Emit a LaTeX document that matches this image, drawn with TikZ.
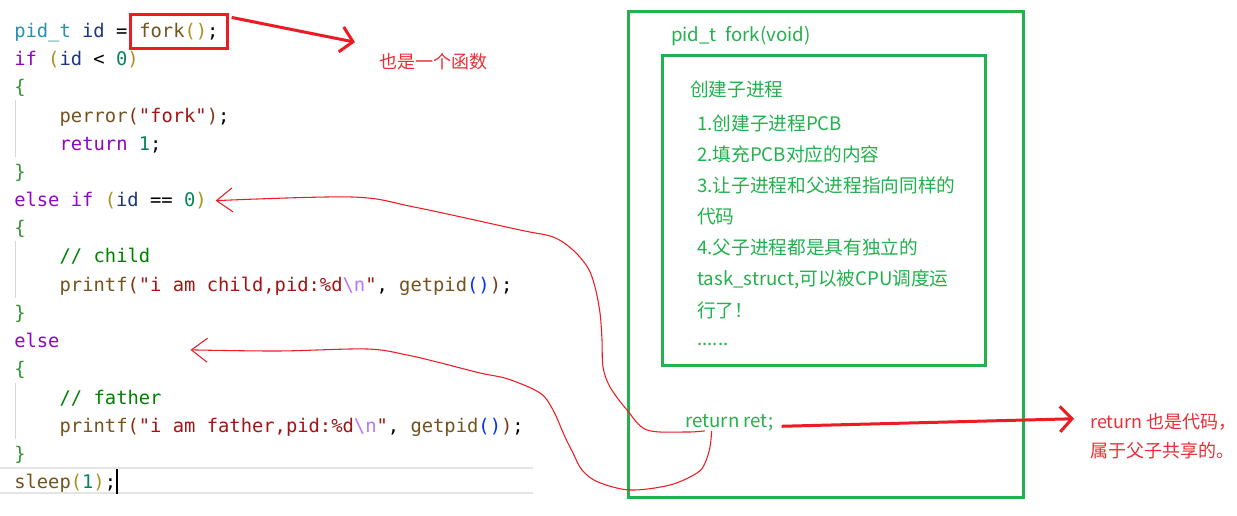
\documentclass[tikz,border=0pt]{standalone}
\usepackage{fontspec}
\setmonofont{DejaVu Sans Mono}
\newfontfamily\cjk{Noto Sans CJK SC}
\usetikzlibrary{positioning, fit, arrows.meta}

\definecolor{paintred}{HTML}{ED1C24}
\definecolor{paintgreen}{HTML}{22B14C}
\definecolor{notered}{HTML}{EE2C36}
\definecolor{kwpurple}{HTML}{8F08C4}
\definecolor{typeteal}{HTML}{2B91AF}
\definecolor{varnavy}{HTML}{1F377F}
\definecolor{fnbrown}{HTML}{74531F}
\definecolor{numteal}{HTML}{098658}
\definecolor{strred}{HTML}{A31515}
\definecolor{escviolet}{HTML}{B776FB}
\definecolor{comgreen}{HTML}{008000}
\definecolor{bracegreen}{HTML}{319331}
\definecolor{parolive}{HTML}{A8921E}
\definecolor{parbrown}{HTML}{7B3814}
\definecolor{parblue}{HTML}{0431FA}
\definecolor{guidegray}{HTML}{D6D6D6}
\definecolor{linegray}{HTML}{E4E4E4}

% syntax colours of the editor
\newcommand{\ckw}[1]{\textcolor{kwpurple}{#1}}
\newcommand{\cty}[1]{\textcolor{typeteal}{#1}}
\newcommand{\cvr}[1]{\textcolor{varnavy}{#1}}
\newcommand{\cfn}[1]{\textcolor{fnbrown}{#1}}
\newcommand{\cnm}[1]{\textcolor{numteal}{#1}}
\newcommand{\cst}[1]{\textcolor{strred}{#1}}
\newcommand{\ces}[1]{\textcolor{escviolet}{#1}}
\newcommand{\ccm}[1]{\textcolor{comgreen}{#1}}
\newcommand{\cbr}[1]{\textcolor{bracegreen}{#1}}
\newcommand{\cpa}[1]{\textcolor{parolive}{#1}}
\newcommand{\cpb}[1]{\textcolor{parbrown}{#1}}
\newcommand{\cpc}[1]{\textcolor{parblue}{#1}}
\newcommand{\codefont}{\ttfamily\fontsize{14.1pt}{17pt}\selectfont\frenchspacing}

\begin{document}
\begin{tikzpicture}[
			x=0.75pt, y=-0.75pt,
			code/.style={anchor=base west, inner sep=0pt, font=\codefont},
			note/.style={anchor=base west, inner sep=0pt, font=\cjk\fontsize{14pt}{17pt}\selectfont, text=paintgreen},
			rednote/.style={anchor=base west, inner sep=0pt, font=\cjk\fontsize{13.5pt}{16pt}\selectfont, text=notered},
			greenbox/.style={rectangle, draw=paintgreen, line width=2.25pt, inner sep=0pt},
			redbox/.style={rectangle, draw=paintred, line width=2.25pt, inner xsep=6.5pt, inner ysep=6pt},
			boldarrow/.style={-{Straight Barb[length=9pt, width=19pt]}, line width=2.25pt, draw=paintred},
			handarrow/.style={-{Straight Barb[length=12pt, width=18pt]}, line width=0.8pt, draw=paintred}
			]
			\fill[white] (0,0) rectangle (1237,516);
			\useasboundingbox (0,0) rectangle (1237,516);
			
			% Editor decorations
			\draw[guidegray, line width=0.75pt] (15,100) -- (15,157);
			\draw[guidegray, line width=0.75pt] (15,241) -- (15,298);
			\draw[guidegray, line width=0.75pt] (15,383) -- (15,439);
			\draw[linegray, line width=1.5pt] (0,468) -- (533,468);
			\draw[linegray, line width=1.5pt] (0,493) -- (533,493);
			\draw[black, line width=1.5pt] (117,469) -- (117,494);
			
			% Code lines
			\node (line0) [code] at (14,37.5) {\cty{pid\_t} \cvr{id} =};
			\node (forkcall) [code, right=8.49pt of line0.base east, anchor=base west] {\cfn{fork}\cpa{()};};
			\node (line1) [code] at (14,65.7) {\ckw{if} \cpa{(}\cvr{id} < \cnm{0}\cpa{)}};
			\node (line2) [code] at (14,93.9) {\cbr{\{}};
			\node (line3) [code] at (59.4,122.1) {\cfn{perror}\cpb{(}\cst{"fork"}\cpb{)};};
			\node (line4) [code] at (59.4,150.3) {\ckw{return} \cnm{1};};
			\node (line5) [code] at (14,178.5) {\cbr{\}}};
			\node (elseifline) [code] at (14,206.6) {\ckw{else} \ckw{if} \cpa{(}\cvr{id} == \cnm{0}\cpa{)}};
			\node (line7) [code] at (14,234.8) {\cbr{\{}};
			\node (line8) [code] at (59.4,263.0) {\ccm{// child}};
			\node (line9) [code] at (59.4,291.2) {\cfn{printf}\cpb{(}\cst{"i am child,pid:\%d}\ces{\textbackslash n}\cst{"}, \cfn{getpid}\cpc{()}\cpb{)};};
			\node (line10) [code] at (14,319.4) {\cbr{\}}};
			\node (elseline) [code] at (14,347.6) {\ckw{else}};
			\node (line12) [code] at (14,375.8) {\cbr{\{}};
			\node (line13) [code] at (59.4,404.0) {\ccm{// father}};
			\node (line14) [code] at (59.4,432.2) {\cfn{printf}\cpb{(}\cst{"i am father,pid:\%d}\ces{\textbackslash n}\cst{"}, \cfn{getpid}\cpc{()}\cpb{)};};
			\node (line15) [code] at (14,460.4) {\cbr{\}}};
			\node (line16) [code] at (14,488.5) {\cfn{sleep}\cpa{(}\cnm{1}\cpa{)};};
			\node (forkbox) [redbox, fit=(forkcall)] {};
			\node (funcnote) [rednote] at (379,69) {也是一个函数};
			
			% fork() body
			\node (funcbox) [greenbox, minimum width=296.25pt, minimum height=363.75pt] at (825.5,254.5) {};
			\node (pcbbox) [greenbox, minimum width=242.25pt, minimum height=231.75pt] at (823.5,210.5) {};
			\node (fnsig) [note] at (671,42) {pid\_t\ \ fork(void)};
			\node (step0) [note] at (690,97) {创建子进程};
			\node (step1) [note] at (697,131) {1.创建子进程PCB};
			\node (step2) [note] at (697,162) {2.填充PCB对应的内容};
			\node (step3) [note] at (697,193) {3.让子进程和父进程指向同样的};
			\node (step3b) [note] at (697,224) {代码};
			\node (step4) [note] at (697,255) {4.父子进程都是具有独立的};
			\node (step4b) [note] at (697,286) {task\_struct,可以被CPU调度运};
			\node (step4c) [note] at (697,317) {行了！};
			\node (more) [note] at (697,345) {......};
			\node (retline) [note] at (685,427) {return ret;};
			\node (sharenote) [rednote] at (1090,428) {return 也是代码，};
			\node (sharenote2) [rednote] at (1090,457) {属于父子共享的。};
			
			% Arrows
			\draw [boldarrow] ([xshift=2pt, yshift=-3pt]forkbox.north east) -- ([xshift=-18pt, yshift=15pt]funcnote.west);
			\draw [boldarrow] ([xshift=6pt, yshift=-3pt]retline.east) -- ([xshift=-12pt, yshift=2pt]sharenote.west);
			
			\draw [handarrow] plot[smooth, tension=0.55] coordinates {([xshift=15pt]retline.south west) (687,432) (647,430) (627,410) (610,387) (603,367) (602,340) (600,313) (595,287) (588,268) (573,250) (553,237) (520,230) (414,207) (352,197) ([xshift=6.5pt]elseifline.east)};
			\draw [handarrow] plot[smooth, tension=0.55] coordinates {([xshift=20pt]retline.south west) (710,447) (705,463) (697,473) (670,485) (630,490) (598,482) (582,470) (573,453) (565,437) (553,410) (540,393) (508,379) (480,373) (437,362) (407,355) (367,349) (278,351) ([xshift=98pt, yshift=-7pt]elseline.east)};
		\end{tikzpicture}
\end{document}
